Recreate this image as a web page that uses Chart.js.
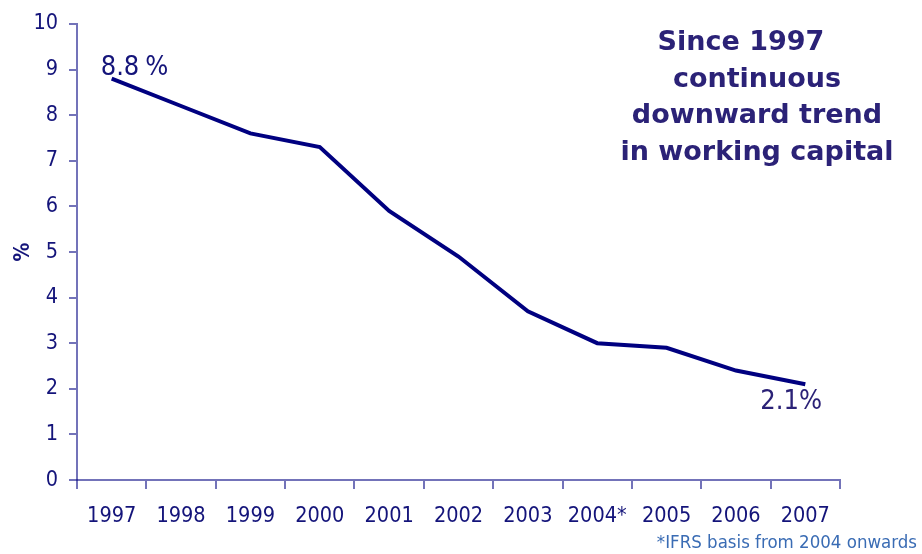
<!DOCTYPE html>
<html>
<head>
<meta charset="utf-8">
<script src="https://cdn.jsdelivr.net/npm/chart.js@4"></script>
<style>
    html, body { margin: 0; padding: 0; background: #ffffff; }
    #wrap { width: 922px; height: 554px; position: relative; }
</style>
</head>
<body>
<div id="wrap"><canvas id="myChart"></canvas></div>
<script>
// data
const years = ['1997', '1998', '1999', '2000', '2001', '2002', '2003', '2004*', '2005', '2006', '2007'];
const workingCapital = [8.8, 8.2, 7.6, 7.3, 5.9, 4.9, 3.7, 3.0, 2.9, 2.4, 2.1];
const yTicks = [0, 1, 2, 3, 4, 5, 6, 7, 8, 9, 10];
const headline = ['Since 1997', 'continuous', 'downward trend', 'in working capital'];
const footnote = '*IFRS basis from 2004 onwards';

const FONT = '"DejaVu Sans Condensed", "DejaVu Sans", sans-serif';
const NAVY = '#000080';
const AXIS = 'rgba(0, 0, 128, 0.55)';
const TEXT = '#14147a';

// text on top of the chart: end labels, headline, footnote
const extras = {
    id: 'extras',
    afterDatasetsDraw(chart) {
        const ctx = chart.ctx;
        const pts = chart.getDatasetMeta(0).data;
        const first = pts[0];
        const last = pts[pts.length - 1];

        ctx.save();
        ctx.fillStyle = TEXT;
        ctx.textBaseline = 'alphabetic';
        ctx.textAlign = 'left';
        ctx.font = '27px ' + FONT;
        ctx.fillText(workingCapital[0].toFixed(1), first.x - 11, first.y - 4);
        let w = ctx.measureText(workingCapital[0].toFixed(1)).width;
        ctx.fillText('%', first.x - 11 + w + 6, first.y - 4);

        ctx.fillStyle = '#2b2277';
        ctx.font = '27px ' + FONT;
        ctx.fillText(workingCapital[workingCapital.length - 1].toFixed(1) + '%', last.x - 45, last.y + 25);

        ctx.font = 'bold 27px "DejaVu Sans", sans-serif';
        ctx.textAlign = 'center';
        for (let i = 0; i < headline.length; i++) {
            let cx = i === 0 ? 741 : 757;
            ctx.fillText(headline[i], cx, 50 + i * 36.5);
        }

        ctx.fillStyle = '#3a6cb4';
        ctx.font = '18.5px ' + FONT;
        ctx.textAlign = 'right';
        ctx.fillText(footnote, 917, 548);
        ctx.restore();
    }
};

window.addEventListener('load', function() {
    chartLine();
});

function chartLine() {
    const ctx = document.getElementById('myChart');
    new Chart(ctx, {
        type: 'line',
        data: {
            labels: years,
            datasets: [{
                label: 'Working capital',
                data: workingCapital,
                borderColor: NAVY,
                borderWidth: 4,
                pointRadius: 0,
                tension: 0,
                fill: false
            }]
        },
        options: {
            responsive: true,
            maintainAspectRatio: false,
            animation: false,
            devicePixelRatio: 1,
            layout: {
                padding: { top: 22, right: 82, left: 0, bottom: 0 }
            },
            plugins: {
                legend: { display: false },
                tooltip: { enabled: false }
            },
            scales: {
                x: {
                    offset: true,
                    grid: {
                        offset: true,
                        drawOnChartArea: false,
                        drawTicks: true,
                        tickLength: 9,
                        color: AXIS,
                        lineWidth: 2
                    },
                    border: { color: AXIS, width: 2 },
                    ticks: {
                        color: TEXT,
                        font: { family: FONT, size: 21.5 },
                        padding: 15,
                        maxRotation: 0,
                        autoSkip: false
                    },
                    afterFit: function(scale) { scale.height = 74; }
                },
                y: {
                    min: 0,
                    max: 10,
                    afterBuildTicks: function(scale) {
                        scale.ticks = yTicks.map(v => ({ value: v }));
                    },
                    grid: {
                        drawOnChartArea: false,
                        drawTicks: true,
                        tickLength: 8,
                        color: AXIS,
                        lineWidth: 2
                    },
                    border: { color: AXIS, width: 2 },
                    ticks: {
                        color: TEXT,
                        font: { family: FONT, size: 21.5 },
                        padding: 11
                    },
                    title: {
                        display: true,
                        text: '%',
                        color: TEXT,
                        font: { family: FONT, size: 21, weight: 'bold' },
                        padding: { top: 11, bottom: 0 }
                    },
                    afterFit: function(scale) { scale.width = 77; }
                }
            }
        },
        plugins: [extras]
    });
}
</script>
</body>
</html>
